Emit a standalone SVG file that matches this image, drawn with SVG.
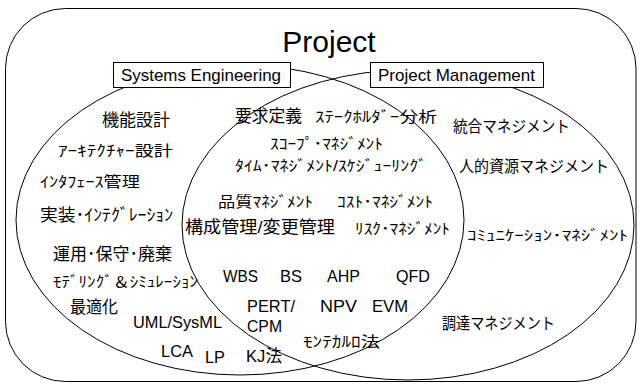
<svg xmlns="http://www.w3.org/2000/svg" width="640" height="385" viewBox="0 0 640 385">
<style>
.ln{fill:none;stroke:#000;stroke-width:1}
.box{fill:#fff;stroke:#000;stroke-width:1}
text{fill:#000;font-family:"Liberation Sans","Noto Sans CJK JP",sans-serif}
.en{font-size:17px}
.jl{font-size:17px}
.jm{font-size:16px}
.js{font-size:15px}
.jx{font-size:14px}
</style>
<rect width="640" height="385" fill="#fff"/>
<g id="project">
<rect class="ln" x="5.5" y="8.5" width="630.5" height="373" rx="60" ry="60"/>
<text x="329" y="52" font-size="30" text-anchor="middle">Project</text>
</g>
<g id="connectors">
<ellipse id="se-ellipse" class="ln" cx="240" cy="220" rx="224" ry="155"/>
<ellipse id="pm-ellipse" class="ln" cx="408" cy="225" rx="226" ry="155"/>
</g>
<g id="se-label">
<rect class="box" x="113.5" y="62.5" width="177" height="25"/>
<text class="en" x="121" y="81" textLength="160" lengthAdjust="spacingAndGlyphs">Systems Engineering</text>
</g>
<g id="pm-label">
<rect class="box" x="370.5" y="62.5" width="173" height="25"/>
<text class="en" x="378" y="81" textLength="157" lengthAdjust="spacingAndGlyphs">Project Management</text>
</g>
<g id="se-items">
<text class="jl" x="102" y="126" textLength="68" lengthAdjust="spacingAndGlyphs">機能設計</text>
<text class="js" x="58" y="156" textLength="115" lengthAdjust="spacingAndGlyphs">ｱｰｷﾃｸﾁｬｰ設計</text>
<text class="js" x="40" y="187" textLength="100" lengthAdjust="spacingAndGlyphs">ｲﾝﾀﾌｪｰｽ管理</text>
<text class="jl" x="40" y="221" textLength="133" lengthAdjust="spacingAndGlyphs">実装･ｲﾝﾃｸﾞﾚｰｼｮﾝ</text>
<text class="jl" x="53" y="260" textLength="119" lengthAdjust="spacingAndGlyphs">運用･保守･廃棄</text>
<text class="js" x="53" y="287" textLength="145" lengthAdjust="spacingAndGlyphs">ﾓﾃﾞﾘﾝｸﾞ＆ｼﾐｭﾚｰｼｮﾝ</text>
<text class="jl" x="70" y="313" textLength="48" lengthAdjust="spacingAndGlyphs">最適化</text>
<text class="en" x="133" y="328" textLength="89" lengthAdjust="spacingAndGlyphs">UML/SysML</text>
<text class="en" x="161" y="357" textLength="32" lengthAdjust="spacingAndGlyphs">LCA</text>
<text class="en" x="205" y="363" textLength="20" lengthAdjust="spacingAndGlyphs">LP</text>
</g>
<g id="common-items">
<text class="jl" x="235" y="122" textLength="67" lengthAdjust="spacingAndGlyphs">要求定義</text>
<text class="js" x="315" y="122" textLength="122" lengthAdjust="spacingAndGlyphs">ｽﾃｰｸﾎﾙﾀﾞｰ分析</text>
<text class="js" x="270" y="149" textLength="113" lengthAdjust="spacingAndGlyphs">ｽｺｰﾌﾟ･ﾏﾈｼﾞﾒﾝﾄ</text>
<text class="js" x="235" y="171" textLength="192" lengthAdjust="spacingAndGlyphs">ﾀｲﾑ･ﾏﾈｼﾞﾒﾝﾄ/ｽｹｼﾞｭｰﾘﾝｸﾞ</text>
<text class="js" x="218" y="207" textLength="95" lengthAdjust="spacingAndGlyphs">品質ﾏﾈｼﾞﾒﾝﾄ</text>
<text class="js" x="337" y="207" textLength="96" lengthAdjust="spacingAndGlyphs">ｺｽﾄ･ﾏﾈｼﾞﾒﾝﾄ</text>
<text class="jl" x="185" y="233" textLength="150" lengthAdjust="spacingAndGlyphs">構成管理/変更管理</text>
<text class="js" x="355" y="234" textLength="95" lengthAdjust="spacingAndGlyphs">ﾘｽｸ･ﾏﾈｼﾞﾒﾝﾄ</text>
<text class="en" x="223" y="282" textLength="35" lengthAdjust="spacingAndGlyphs">WBS</text>
<text class="en" x="280" y="282" textLength="22" lengthAdjust="spacingAndGlyphs">BS</text>
<text class="en" x="327" y="282" textLength="33" lengthAdjust="spacingAndGlyphs">AHP</text>
<text class="en" x="396" y="282" textLength="34" lengthAdjust="spacingAndGlyphs">QFD</text>
<text class="en" x="247" y="312" textLength="48" lengthAdjust="spacingAndGlyphs">PERT/</text>
<text class="en" x="247" y="332" textLength="35" lengthAdjust="spacingAndGlyphs">CPM</text>
<text class="en" x="320" y="312" textLength="37" lengthAdjust="spacingAndGlyphs">NPV</text>
<text class="en" x="372" y="312" textLength="36" lengthAdjust="spacingAndGlyphs">EVM</text>
<text class="js" x="303" y="347" textLength="77" lengthAdjust="spacingAndGlyphs">ﾓﾝﾃｶﾙﾛ法</text>
<text class="jl" x="246" y="362" textLength="36" lengthAdjust="spacingAndGlyphs">KJ法</text>
</g>
<g id="pm-items">
<text class="jm" x="453" y="132" textLength="117" lengthAdjust="spacingAndGlyphs">統合マネジメント</text>
<text class="jm" x="459" y="172" textLength="150" lengthAdjust="spacingAndGlyphs">人的資源マネジメント</text>
<text class="jx" x="467" y="240" textLength="161" lengthAdjust="spacingAndGlyphs">ｺﾐｭﾆｹｰｼｮﾝ･ﾏﾈｼﾞﾒﾝﾄ</text>
<text class="jm" x="442" y="329" textLength="113" lengthAdjust="spacingAndGlyphs">調達マネジメント</text>
</g>
</svg>
